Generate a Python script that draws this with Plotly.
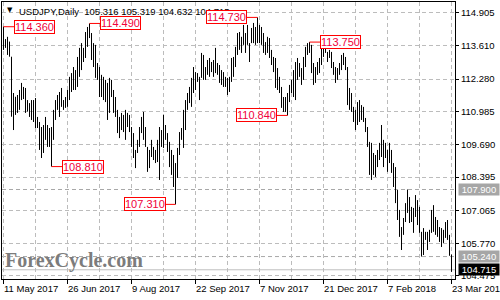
import plotly.graph_objects as go

# ---------------- data ----------------
highs = [
    114.36, 113.87, 113.96, 113.77, 113.17, 111.73, 111.58, 111.65, 111.85, 112.13,
    111.97, 111.93, 111.45, 111.33, 111.45, 111.45, 111.53, 110.78, 110.58, 110.38,
    110.46, 110.78, 110.46, 110.34, 110.38, 111.06, 111.45, 111.65, 111.77, 111.93,
    111.45, 111.57, 111.85, 112.37, 112.52, 112.76, 112.64, 113.16, 113.52, 113.71,
    113.52, 114.15, 114.35, 114.49, 114.11, 113.71, 113.64, 112.92, 112.76, 112.45,
    112.37, 112.25, 112.13, 112.33, 112.25, 111.85, 111.57, 111.06, 110.78, 110.94,
    110.86, 111.06, 110.94, 110.86, 110.38, 110.14, 109.47, 109.87, 110.38, 110.78,
    110.98, 110.38, 109.59, 109.47, 109.87, 109.59, 109.47, 109.87, 110.38, 110.26,
    110.86, 110.46, 110.14, 109.79, 109.47, 109.27, 108.95, 109.55, 110.18, 110.34,
    111.06, 111.45, 111.73, 111.97, 112.33, 112.76, 112.56, 112.52, 112.37, 113.32,
    113.24, 112.76, 113.04, 113.12, 112.96, 113.04, 113.52, 112.92, 112.84, 112.64,
    112.56, 112.37, 112.33, 112.37, 113.12, 113.16, 113.56, 114.11, 114.15, 113.96,
    114.43, 114.11, 114.43, 113.71, 114.31, 114.51, 114.35, 114.73, 114.43, 114.35,
    114.11, 113.75, 113.96, 113.91, 113.44, 113.16, 113.12, 112.72, 112.37, 111.97,
    111.57, 111.57, 111.73, 112.05, 112.25, 112.64, 112.96, 113.12, 112.92, 112.72,
    113.16, 113.56, 113.71, 113.75, 113.64, 112.92, 112.76, 112.96, 113.12, 113.56,
    113.56, 113.71, 113.36, 113.44, 113.36, 112.96, 112.76, 112.72, 112.92, 113.24,
    113.32, 113.16, 112.76, 111.93, 111.73, 111.18, 111.06, 111.37, 111.45, 111.25,
    111.18, 110.74, 110.38, 109.79, 109.75, 109.35, 109.27, 109.47, 109.75, 110.46,
    109.87, 109.75, 109.47, 109.75, 109.47, 108.95, 108.79, 107.88, 107.09, 106.41,
    106.77, 107.36, 107.90, 107.60, 107.21, 107.17, 107.68, 107.48, 107.21, 106.22,
    106.37, 106.22, 106.22, 106.30, 107.09, 107.28, 106.81, 106.69, 106.41, 106.37,
    106.30, 106.61, 106.69, 106.10, 105.319,
]
lows = [
    113.44, 113.52, 113.24, 113.17, 110.79, 110.26, 110.86, 110.94, 111.06, 111.45,
    111.49, 110.94, 110.99, 110.78, 110.66, 110.58, 110.34, 110.34, 109.47, 109.15,
    109.35, 109.87, 109.59, 109.59, 108.81, 109.87, 110.66, 111.06, 110.78, 111.18,
    111.06, 111.14, 111.18, 111.45, 111.77, 111.85, 111.85, 111.97, 112.37, 112.64,
    112.96, 113.12, 113.56, 113.91, 113.04, 112.76, 112.33, 112.25, 111.57, 111.57,
    111.45, 111.37, 110.66, 110.94, 111.57, 110.94, 110.78, 110.14, 109.94, 110.26,
    110.18, 109.87, 110.38, 110.18, 109.59, 109.15, 108.75, 109.35, 109.59, 110.14,
    109.87, 109.59, 108.60, 108.75, 109.19, 109.07, 108.95, 108.99, 108.28, 109.59,
    109.55, 109.87, 109.39, 108.79, 108.48, 108.00, 107.31, 108.36, 109.27, 109.87,
    109.55, 110.26, 111.06, 111.33, 111.18, 111.73, 111.85, 112.17, 111.45, 112.33,
    112.25, 112.25, 112.45, 112.37, 112.56, 112.37, 112.52, 112.45, 112.13, 112.05,
    111.97, 111.97, 111.65, 111.77, 112.17, 112.37, 112.76, 113.24, 113.44, 113.32,
    113.64, 113.32, 113.64, 112.96, 113.71, 113.71, 113.64, 113.71, 113.71, 113.64,
    113.32, 113.24, 113.32, 113.12, 112.84, 112.56, 111.93, 111.85, 111.73, 111.14,
    110.98, 110.98, 110.84, 111.37, 111.73, 111.57, 111.45, 112.25, 112.37, 112.05,
    112.25, 112.76, 113.24, 113.32, 112.52, 112.05, 112.13, 112.45, 112.52, 112.84,
    113.16, 113.32, 112.96, 113.12, 112.72, 112.45, 112.13, 112.25, 112.45, 112.64,
    112.84, 112.64, 111.25, 111.06, 110.98, 110.58, 110.26, 110.46, 110.58, 110.66,
    110.58, 110.18, 109.59, 108.48, 108.28, 108.48, 108.40, 108.79, 109.07, 109.19,
    108.79, 109.15, 108.60, 108.95, 108.56, 108.00, 107.36, 106.69, 106.02, 105.50,
    106.10, 106.61, 106.97, 106.57, 106.61, 106.18, 106.81, 106.49, 106.18, 105.24,
    105.30, 105.90, 105.50, 105.82, 106.18, 106.22, 106.10, 106.02, 105.82, 105.62,
    105.78, 105.98, 105.90, 105.27, 104.632,
]
last_ohlc = [105.316, 105.319, 104.632, 104.715]

ytick_vals = [114.905, 113.610, 112.280, 110.985, 109.690, 108.395, 107.065, 105.770, 104.475]
date_idx = [0, 32, 64, 96, 128, 160, 192, 224]
date_labels = ["11 May 2017", "26 Jun 2017", "9 Aug 2017", "22 Sep 2017",
               "7 Nov 2017", "21 Dec 2017", "7 Feb 2018", "23 Mar 2018"]
minor_grid_idx = [16, 48, 80, 112, 144, 176, 208]

# swing labels: (bar index, 'h' or 'l', side of box)
swing_idx = [0, 43, 127, 153, 142, 24, 86]
swing_kind = ["h", "h", "h", "h", "l", "l", "l"]
swing_side = [1, 1, -1, 1, -1, 1, -1]

levels = [107.900, 105.240]
price_now = last_ohlc[3]

# ---------------- figure ----------------
W, H = 500, 300
L, R, T, B = 2, 45, 2, 21
PW, PH = W - L - R, H - T - B

def px_x(px):
    return (px - L) / PW

def px_y(py):
    return 1 - (py - T) / PH

bx, by = [], []
for i, (h, l) in enumerate(zip(highs, lows)):
    bx += [i, i, None]
    by += [l, h, None]

fig = go.Figure()
fig.add_trace(go.Scatter(x=bx, y=by, mode="lines",
                         line=dict(color="black", width=1),
                         hoverinfo="skip", showlegend=False))

grid_col = "#bcbcbc"
font_fam = "Liberation Sans, Arial, sans-serif"

fig.update_layout(
    width=W, height=H,
    margin=dict(l=L, r=R, t=T, b=B, pad=0),
    paper_bgcolor="white", plot_bgcolor="white",
    showlegend=False,
    xaxis=dict(
        range=[-0.75, 225.75], fixedrange=True,
        tickmode="array", tickvals=date_idx, showticklabels=False,
        ticks="outside", ticklen=4, tickcolor="black", tickwidth=1,
        showgrid=True, gridcolor=grid_col, griddash="4px,3px", gridwidth=1,
        minor=dict(tickmode="array", tickvals=minor_grid_idx, showgrid=True,
                   gridcolor=grid_col, griddash="4px,3px", ticks=""),
        showline=True, mirror=True, linecolor="black", linewidth=1,
        zeroline=False,
    ),
    yaxis=dict(
        range=[104.349, 115.341], fixedrange=True, side="right",
        tickmode="array", tickvals=ytick_vals,
        ticktext=[f"{v:.3f}" for v in ytick_vals],
        ticks="outside", ticklen=3, tickcolor="black",
        tickfont=dict(family=font_fam, size=9.5, color="black"),
        showgrid=True, gridcolor=grid_col, griddash="4px,3px", gridwidth=1,
        showline=True, mirror=True, linecolor="black", linewidth=1,
        zeroline=False,
    ),
)

shapes = []
for lv in levels:
    shapes.append(dict(type="line", xref="paper", x0=0, x1=1, yref="y", y0=lv, y1=lv,
                       line=dict(color="#a8a8a8", width=1, dash="4px,3px"), layer="below"))
shapes.append(dict(type="line", xref="paper", x0=0, x1=1, yref="y", y0=price_now, y1=price_now,
                   line=dict(color="#c0c0c0", width=1), layer="below"))
fig.update_layout(shapes=shapes)

ann = []
# header
ann.append(dict(xref="paper", yref="paper", x=px_x(5), y=px_y(10.5), xanchor="left", yanchor="middle",
                text="▼", showarrow=False, font=dict(family="DejaVu Sans", size=7, color="black")))
ann.append(dict(xref="paper", yref="paper", x=px_x(17), y=px_y(11), xanchor="left", yanchor="middle",
                text="USDJPY,Daily  " + " ".join(f"{v:.3f}" for v in last_ohlc),
                showarrow=False, font=dict(family=font_fam, size=9.5, color="black")))
# watermark
ann.append(dict(xref="paper", yref="paper", x=px_x(3), y=px_y(260), xanchor="left", yanchor="middle",
                text="<b>ForexCycle.com</b>", showarrow=False,
                font=dict(family="Liberation Serif, DejaVu Serif, serif", size=20, color="#7c7c7c")))
# swing labels
for i, k, s in zip(swing_idx, swing_kind, swing_side):
    v = highs[i] if k == "h" else lows[i]
    ann.append(dict(xref="x", yref="y", x=i, y=v, text=f"{v:.3f}",
                    showarrow=True, arrowhead=0, arrowwidth=1, arrowcolor="#ff0000",
                    ax=31 * s, ay=0, standoff=0, startstandoff=0,
                    bordercolor="#ff0000", borderwidth=1, borderpad=0, bgcolor="white",
                    font=dict(family=font_fam, size=11, color="#f0003c")))
# right-side price boxes
for lv, bg in [(levels[0], "#a6a6a6"), (levels[1], "#a6a6a6"), (price_now, "black")]:
    ann.append(dict(xref="paper", yref="y", x=px_x(458), y=lv, xanchor="left", yanchor="middle",
                    text=f"{lv:.3f}", showarrow=False, bgcolor=bg, borderpad=0,
                    height=11, width=40,
                    font=dict(family=font_fam, size=9.5, color="white")))
# date labels, left-aligned on their ticks
for i, t in zip(date_idx, date_labels):
    ann.append(dict(xref="x", yref="paper", x=i, y=0, xanchor="left", yanchor="top",
                    xshift=-2, yshift=-2, text=t, showarrow=False,
                    font=dict(family=font_fam, size=9.5, color="black")))
fig.update_layout(annotations=ann)

fig.write_html("out.html", config={"displayModeBar": False})
